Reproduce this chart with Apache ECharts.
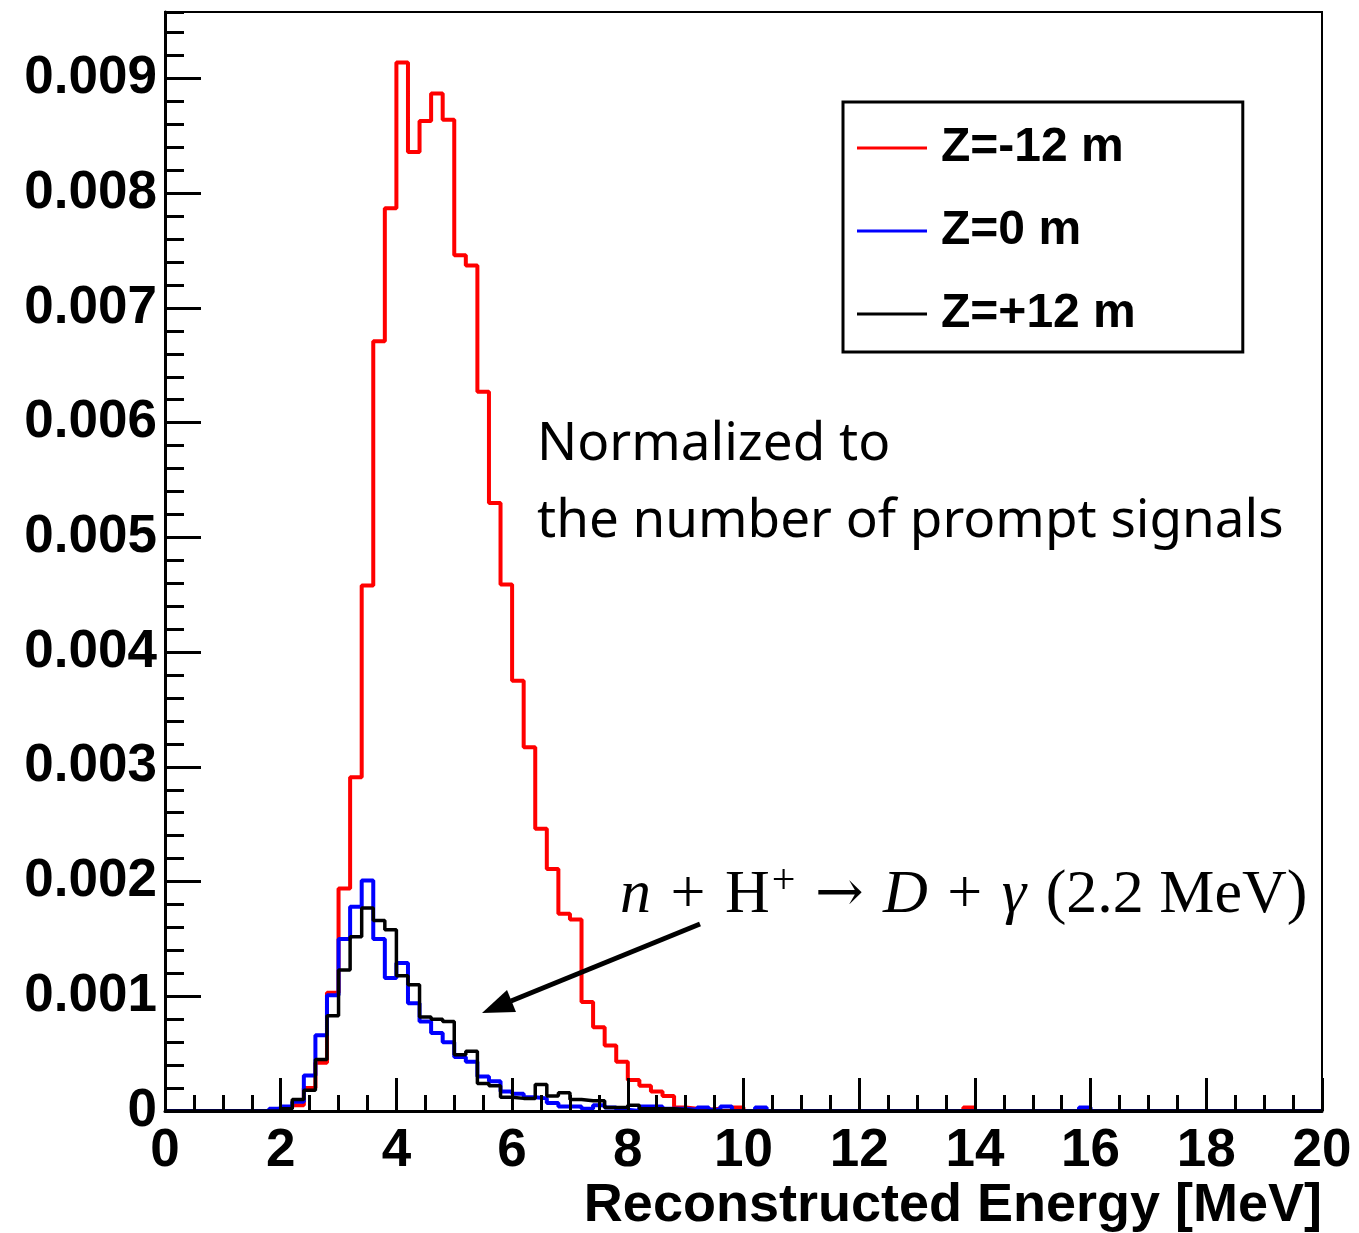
<!DOCTYPE html>
<html><head><meta charset="utf-8">
<script src="https://cdn.jsdelivr.net/npm/echarts@6/dist/echarts.min.js"></script>
<style>html,body{margin:0;padding:0;background:#fff}#c{width:1359px;height:1233px}</style>
</head><body><div id="c"></div>
<script>
// ---- data ----
const binWidth = 0.2;          // MeV
const firstBinEdge = 1.8;      // left edge of first listed bin
const xMin = 0, xMax = 20, yMax = 0.00958;
const seriesNames = ['Z=-12 m', 'Z=0 m', 'Z=+12 m'];
const seriesColors = ['#ff0000', '#0000ff', '#000000'];
// bins from 1.8 MeV to 10.4 MeV, width 0.2 MeV
const redZm12 = [0.00001,0.00003,0.00005,0.00020,0.00042,0.00103,0.00194,0.00291,0.00458,0.00671,
  0.00787,0.00914,0.00836,0.00863,0.00887,0.00864,0.00746,0.00737,0.00627,0.00530,
  0.00459,0.00375,0.00317,0.00246,0.00211,0.00172,0.00167,0.00095,0.00073,0.00057,
  0.00043,0.00027,0.00022,0.00017,0.00013,0.00003,0.00002,0.00001,0.00002,0,
  0.00003,0,0];
const blueZ0 = [0.00002,0.00004,0.00008,0.00031,0.00066,0.00101,0.00150,0.00178,0.00201,0.00150,
  0.00116,0.00129,0.00094,0.00078,0.00068,0.00060,0.00047,0.00043,0.00030,0.00026,
  0.00017,0.00015,0.00012,0.00011,0.00007,0.00004,0.00004,0.00002,0.00005,0.00003,
  0.00001,0,0.00004,0.00004,0.00002,0.00002,0.00001,0.00003,0.00001,0.00004,
  0,0,0.00003];
const blackZp12 = [0,0.00002,0.00010,0.00018,0.00045,0.00083,0.00123,0.00152,0.00177,0.00166,
  0.00158,0.00118,0.00110,0.00082,0.00080,0.00078,0.00049,0.00052,0.00024,0.00022,
  0.00012,0.00011,0.00011,0.00023,0.00013,0.00016,0.00010,0.00009,0.00009,0.00003,
  0.00003,0.00005,0.00002,0.00002,0.00002,0.00001,0,0,0,0,
  0,0,0];
const redExtraBins = [[13.8, 0.00003]];
const blueExtraBins = [[15.8, 0.00003]];
const blackExtraBins = [];

function buildSteps(vals, extras) {
  const nBins = Math.round((xMax - xMin) / binWidth);
  const full = new Array(nBins).fill(0);
  const off = Math.round((firstBinEdge - xMin) / binWidth);
  vals.forEach((v, i) => { full[off + i] = v; });
  extras.forEach(([e, v]) => { full[Math.round((e - xMin) / binWidth)] = v; });
  const pts = full.map((v, i) => [+(xMin + i * binWidth).toFixed(2), v]);
  pts.push([xMax, full[nBins - 1]]);
  return pts;
}
const allVals = [redZm12, blueZ0, blackZp12];
const allExtras = [redExtraBins, blueExtraBins, blackExtraBins];

const boldFont = 'Liberation Sans, Arial, Helvetica, sans-serif';
const chart = echarts.init(document.getElementById('c'), null, {renderer: 'canvas'});
const option = {
  animation: false,
  backgroundColor: '#ffffff',
  grid: {left: 165, top: 12, right: 37, bottom: 122, show: true, borderColor: '#000', borderWidth: 2, backgroundColor: 'transparent'},
  title: {
    text: 'Reconstructed Energy [MeV]', right: 37, top: 1179, padding: 0,
    textStyle: {fontFamily: boldFont, fontWeight: 'bold', fontSize: 54, color: '#000'}
  },
  legend: {
    data: seriesNames, orient: 'vertical', left: 843, top: 102,
    padding: [21, 107, 13, 14], itemWidth: 70, itemHeight: 3, itemGap: 33, icon: 'rect',
    backgroundColor: '#fff', borderColor: '#000', borderWidth: 3, borderRadius: 0,
    textStyle: {fontFamily: boldFont, fontWeight: 'bold', fontSize: 48, color: '#000', lineHeight: 50, padding: [0, 0, 0, 9]}
  },
  xAxis: {
    type: 'value', min: xMin, max: xMax, interval: 2, z: 10,
    axisLine: {show: true, onZero: false, lineStyle: {color: '#000', width: 3}},
    axisTick: {show: true, inside: true, length: 33, lineStyle: {color: '#000', width: 3}},
    minorTick: {show: true, splitNumber: 4, length: 16, lineStyle: {color: '#000', width: 3}},
    splitLine: {show: false}, minorSplitLine: {show: false},
    axisLabel: {color: '#000', fontSize: 53, fontWeight: 'bold', fontFamily: boldFont, margin: 14}
  },
  yAxis: [{
    type: 'value', min: 0, max: yMax, interval: 0.001, z: 10,
    axisLine: {show: true, onZero: false, lineStyle: {color: '#000', width: 3}},
    axisTick: {show: true, inside: true, length: 36, lineStyle: {color: '#000', width: 3}},
    splitLine: {show: false},
    axisLabel: {color: '#000', fontSize: 53, fontWeight: 'bold', fontFamily: boldFont, margin: 8, showMaxLabel: false,
      formatter: v => (v === 0 ? '0' : v.toFixed(3))}
  }, {
    type: 'value', min: 0, max: yMax, interval: 0.0002, position: 'left', offset: 0, z: 10,
    axisLine: {show: false},
    axisTick: {show: true, inside: true, length: 19, lineStyle: {color: '#000', width: 3}},
    axisLabel: {show: false}, splitLine: {show: false}
  }],
  series: seriesNames.map((name, k) => ({
    name, type: 'line', step: 'end', symbol: 'none', yAxisIndex: 0,
    data: buildSteps(allVals[k], allExtras[k]),
    itemStyle: {color: seriesColors[k]},
    lineStyle: {color: seriesColors[k], width: k === 2 ? 3.5 : 4},
    z: 2 + k
  })),
  graphic: [
    {type: 'text', z: 100, style: {x: 537, y: 445, text: 'Normalized to', font: '53px "Noto Sans"', fill: '#000', verticalAlign: 'middle'}},
    {type: 'text', z: 100, style: {x: 537, y: 522, text: 'the number of prompt signals', font: '53px "Noto Sans"', fill: '#000', verticalAlign: 'middle'}},
    {type: 'text', z: 100, style: {
      x: 620, y: 896, verticalAlign: 'middle', fill: '#000',
      font: '62px "Liberation Serif"',
      text: '{i|n}{g| }{r|+}{g| }{r|H}{sup|+}{g| }{ar|\u2192}{g| }{i|D}{g| }{r|+}{g| }{i|\u03b3}{g| }{r|(2.2 MeV)}',
      rich: {
        i: {fontStyle: 'italic', fontSize: 62, fontFamily: 'Liberation Serif'},
        r: {fontSize: 62, fontFamily: 'Liberation Serif'},
        g: {fontSize: 62, fontFamily: 'Liberation Serif', width: 19.5},
        ar: {fontSize: 58, fontFamily: 'DejaVu Serif'},
        sup: {fontSize: 42, fontFamily: 'Liberation Serif', verticalAlign: 'bottom', padding: [0, 0, 28, 2]}
      }
    }},
    {type: 'line', z: 100, shape: {x1: 700, y1: 924, x2: 511, y2: 1001}, style: {stroke: '#000', lineWidth: 5}},
    {type: 'polygon', z: 100, shape: {points: [[482, 1013], [516, 1012], [507, 990]]}, style: {fill: '#000'}}
  ]
};
chart.setOption(option);
</script></body></html>
